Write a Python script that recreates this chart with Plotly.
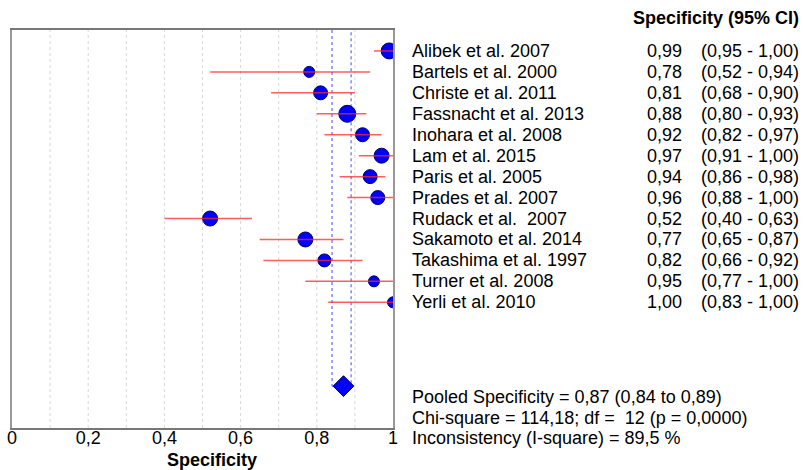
import plotly.graph_objects as go

# ---- data ----
studies = ["Alibek et al. 2007", "Bartels et al. 2000", "Christe et al. 2011",
           "Fassnacht et al. 2013", "Inohara et al. 2008", "Lam et al. 2015",
           "Paris et al. 2005", "Prades et al. 2007", "Rudack et al.  2007",
           "Sakamoto et al. 2014", "Takashima et al. 1997", "Turner et al. 2008",
           "Yerli et al. 2010"]
spec = [0.99, 0.78, 0.81, 0.88, 0.92, 0.97, 0.94, 0.96, 0.52, 0.77, 0.82, 0.95, 1.00]
ci_low = [0.95, 0.52, 0.68, 0.80, 0.82, 0.91, 0.86, 0.88, 0.40, 0.65, 0.66, 0.77, 0.83]
ci_high = [1.00, 0.94, 0.90, 0.93, 0.97, 1.00, 0.98, 1.00, 0.63, 0.87, 0.92, 1.00, 1.00]
pooled = 0.87
pooled_low = 0.84
pooled_high = 0.89
stats_lines = ["Pooled Specificity = 0,87 (0,84 to 0,89)",
               "Chi-square = 114,18; df =  12 (p = 0,0000)",
               "Inconsistency (I-square) = 89,5 %"]
tick_vals = [0, 0.2, 0.4, 0.6, 0.8, 1]
tick_text = ["0", "0,2", "0,4", "0,6", "0,8", "1"]

# style: marker pixel sizes (study weights)
marker_px = [16, 11, 14, 17, 14, 15, 14, 14, 15, 15, 13, 11, 11]

FONT = "Liberation Sans, Arial, sans-serif"
W, H = 803, 470
ML, MR, MT, MB = 12, 410, 30, 42
PW = W - ML - MR
PH = H - MT - MB

def px2paper(px):
    return (px - ML) / PW

def py2paper(py):
    return 1 - (py - MT) / PH

def fmt(v):
    return f"{v:.2f}".replace(".", ",")

n = len(studies)
rows = list(range(1, n + 1))
diamond_row = n + 4
y_max = n + 6

fig = go.Figure()

# grid lines (dashed)
for g in [0.1, 0.2, 0.3, 0.4, 0.5, 0.6, 0.7, 0.8, 0.9]:
    fig.add_shape(type="line", x0=g, x1=g, y0=0, y1=1, xref="x", yref="paper",
                  line=dict(color="#d8d8d8", width=1, dash="dot"), layer="below")

# pooled CI dashed lines
fig.add_trace(go.Scatter(
    x=[pooled_low, pooled_low, pooled_high, pooled_high],
    y=[0, diamond_row, diamond_row, 0],
    mode="lines", line=dict(color="rgba(40,40,255,0.85)", width=1, dash="dot"),
    hoverinfo="skip", showlegend=False))

# study markers
fig.add_trace(go.Scatter(
    x=spec, y=rows, mode="markers",
    marker=dict(size=marker_px, color="#0000ff", opacity=1,
                line=dict(color="#000060", width=1)),
    showlegend=False))

# CI lines on top
lx, ly = [], []
for lo, hi, r in zip(ci_low, ci_high, rows):
    lx += [lo, hi, None]
    ly += [r, r, None]
fig.add_trace(go.Scatter(x=lx, y=ly, mode="lines",
                         line=dict(color="rgba(255,40,40,0.75)", width=1.5),
                         hoverinfo="skip", showlegend=False))

# pooled diamond
fig.add_trace(go.Scatter(
    x=[pooled], y=[diamond_row], mode="markers",
    marker=dict(symbol="diamond", size=16, color="#0000ff", opacity=1,
                line=dict(color="#000060", width=1)),
    showlegend=False))

ann = []
ann.append(dict(text="<b>Specificity (95% CI)</b>", x=px2paper(801),
                y=py2paper(18), xref="paper", yref="paper",
                xanchor="right", yanchor="middle", showarrow=False,
                font=dict(size=18, color="black", family=FONT)))

for name, v, lo, hi, r in zip(studies, spec, ci_low, ci_high, rows):
    ann.append(dict(text=name.replace("  ", "&nbsp; "), x=px2paper(410), y=r, xref="paper", yref="y",
                    xanchor="left", yanchor="middle", showarrow=False,
                    font=dict(size=18, color="black", family=FONT)))
    ann.append(dict(text=fmt(v), x=px2paper(684), y=r, xref="paper", yref="y",
                    xanchor="right", yanchor="middle", showarrow=False,
                    font=dict(size=18, color="black", family=FONT)))
    ann.append(dict(text=f"({fmt(lo)} - {fmt(hi)})", x=px2paper(801), y=r, xref="paper", yref="y",
                    xanchor="right", yanchor="middle", showarrow=False,
                    font=dict(size=18, color="black", family=FONT)))

for i, line in enumerate(stats_lines):
    ann.append(dict(text=line.replace("  ", "&nbsp; "), x=px2paper(410), y=py2paper(397 + 20.5 * i),
                    xref="paper", yref="paper", xanchor="left", yanchor="middle", showarrow=False,
                    font=dict(size=18, color="black", family=FONT)))

# x-axis title
ann.append(dict(text="<b>Specificity</b>", x=px2paper(212), y=py2paper(460), xref="paper", yref="paper",
                xanchor="center", yanchor="middle", showarrow=False,
                font=dict(size=18, color="black", family=FONT)))

fig.update_layout(
    width=W, height=H,
    margin=dict(l=ML, r=MR, t=MT, b=MB, pad=0, autoexpand=False),
    paper_bgcolor="white", plot_bgcolor="white",
    font=dict(family=FONT, size=18, color="black"),
    annotations=ann,
    xaxis=dict(range=[0, 1], tickvals=tick_vals, ticktext=tick_text, showgrid=False,
               zeroline=False, showline=True, linecolor="#777777", linewidth=2, mirror=True,
               ticks="", ticklen=0, automargin=False, ticklabelstandoff=-8,
               tickfont=dict(size=18, family=FONT)),
    yaxis=dict(range=[y_max, 0], showticklabels=False, showgrid=False, zeroline=False,
               showline=True, linecolor="#999999", linewidth=2, mirror=True, ticks="",
               automargin=False),
)

fig.write_html("out.html", config={"displayModeBar": False},
               post_script="document.body.style.margin='0';document.body.style.padding='0';")
